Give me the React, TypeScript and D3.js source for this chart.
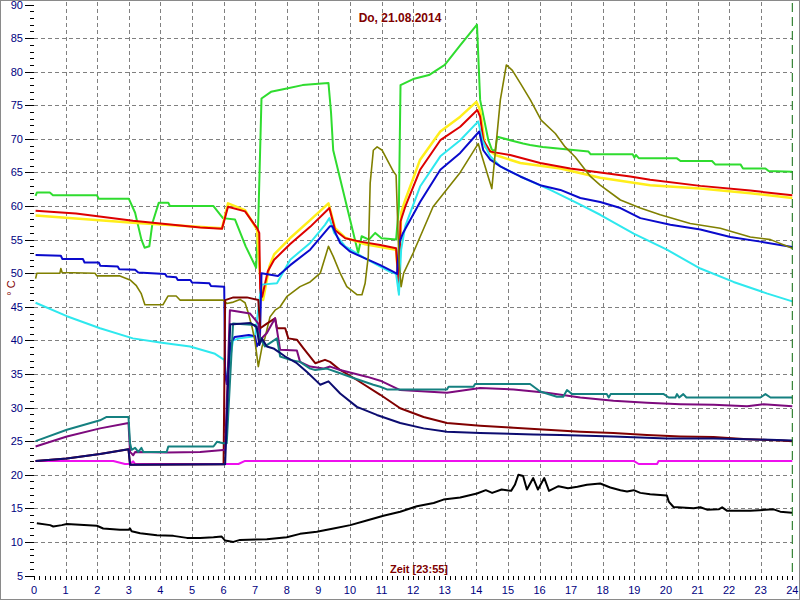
import { useMemo } from "react";
import * as d3 from "d3";

type Pt = [number, number];

// Stunde, °C
const gruen: Pt[] = [[0.05,61.5],[0.09,62],[0.5,62],[0.6,61.6],[1.99,61.6],[2.05,61.1],[3.0,61.1],[3.2,59],[3.4,55],[3.5,53.8],[3.65,54],[3.75,57.5],[3.95,60.5],[4.25,60.5],[4.3,60],[5.68,60],[5.98,58.2],[6.36,58],[6.7,54],[7.03,50.8],[7.1,58],[7.2,76],[7.5,77],[8.0,77.5],[8.5,78],[9.0,78.2],[9.32,78.3],[9.4,74],[9.47,68.3],[10.26,53],[10.37,55.5],[10.6,55],[10.8,56],[11.0,55.2],[11.46,55],[11.55,60],[11.6,78],[12.0,78.9],[12.5,79.5],[13.0,81],[13.5,84],[14.02,87],[14.12,75.8],[14.38,69.8],[14.5,68.3],[14.6,68.3],[14.66,70.3],[15.07,69.8],[15.48,69.3],[15.7,69.1],[16.1,68.8],[17.55,68.1],[17.62,67.7],[18.95,67.7],[19.0,67.2],[19.05,67.6],[19.15,67.1],[20.35,67.1],[20.46,66.7],[21.46,66.7],[21.56,66.2],[22.36,66.2],[22.44,65.6],[23.15,65.6],[23.25,65.2],[24,65.1]];
const gelb: Pt[] = [[0.05,58.6],[3.13,57.5],[5.95,56.7],[6.14,60.4],[6.68,59.4],[7.06,56.5],[7.15,50],[7.25,46],[7.45,51],[7.6,52.8],[8.1,55.2],[8.74,57.9],[9.32,60.4],[9.53,56.7],[9.85,55.3],[10.48,54.3],[11.46,53.5],[11.55,48],[11.62,59],[11.75,60.9],[12.22,66.9],[12.86,71.1],[13.49,73.3],[14.0,75.5],[14.12,74.3],[14.28,68.8],[14.6,67.6],[15.39,66.4],[16.66,65.6],[17.92,64.2],[19.5,63.1],[21.09,62.6],[22.67,61.9],[24,61.2]];
const rot: Pt[] = [[0.05,59.3],[1.33,58.9],[3.13,57.8],[5.26,56.8],[5.95,56.6],[6.14,59.9],[6.68,59.2],[7.06,56.7],[7.13,56],[7.16,47],[7.22,46.5],[7.4,50.3],[7.6,52],[8.1,54.3],[8.74,56.9],[9.35,59.7],[9.53,56.4],[9.85,55.2],[10.32,54.7],[10.96,54.2],[11.46,53.7],[11.55,47.3],[11.6,57.7],[11.75,59.9],[12.22,65.4],[12.86,69.8],[13.49,71.8],[14.03,74.3],[14.12,73.3],[14.22,69.8],[14.44,68.1],[15.07,67.6],[16.02,66.4],[16.97,65.6],[17.92,65.0],[18.87,64.4],[19.5,63.9],[21.09,63.0],[22.67,62.3],[24,61.6]];
const cyan: Pt[] = [[0.05,45.6],[1.04,43.6],[2.09,41.8],[3.13,40.3],[3.99,39.7],[4.94,39.1],[5.73,38.0],[6.02,37.1],[6.1,34],[6.2,37],[6.3,40],[6.5,40.3],[7.0,40.6],[7.08,44],[7.2,48.3],[7.69,48.5],[8.11,52],[8.74,54.5],[9.21,57.2],[9.35,58.2],[9.5,56],[9.85,54],[10.48,52.2],[11.27,50.2],[11.46,49.9],[11.55,46.8],[11.62,53.5],[11.75,57],[12.22,62.9],[12.86,67.4],[13.49,69.8],[14.06,72.6],[14.19,69.8],[14.44,67.4],[14.76,65.9],[15.39,64.4],[16.34,62.4],[17.29,60.2],[17.92,58.7],[18.98,55.9],[20.03,53.5],[21.09,50.7],[22.14,48.7],[23.19,47.0],[24,45.8]];
const blau: Pt[] = [[0.05,52.7],[0.85,52.6],[0.9,52.1],[1.55,52.1],[1.6,51.6],[2.05,51.6],[2.1,51.1],[2.65,51.0],[2.7,50.6],[3.2,50.5],[3.3,50.1],[4.15,49.9],[4.2,49.5],[4.5,49.4],[4.55,49.0],[4.95,49.0],[5.0,48.6],[5.55,48.5],[5.6,48.1],[6.02,48.0],[6.05,35],[6.1,33.5],[6.22,39.5],[6.35,40.5],[6.8,40.8],[7.0,40.6],[7.05,39.1],[7.15,40],[7.2,50],[7.72,49.6],[8.11,51.2],[8.74,53.5],[9.37,57],[9.44,57],[9.69,54.5],[10.01,53.2],[10.48,52.2],[10.96,51.2],[11.38,50.2],[11.49,49.9],[11.56,54.5],[11.68,56],[12.22,60.6],[12.86,65.4],[13.49,67.9],[14.09,71.1],[14.22,68.3],[14.44,66.9],[14.76,65.9],[15.39,64.4],[16.02,63.1],[16.66,62.4],[17.29,61.2],[17.92,60.6],[18.56,59.7],[19.19,58.2],[20.14,57.2],[21.09,56.5],[22.04,55.4],[22.99,54.7],[24,53.9]];
const oliv: Pt[] = [[0.05,49.2],[0.09,50],[0.82,50],[0.85,50.7],[0.89,50.1],[1.93,50.0],[1.99,49.6],[2.72,49.6],[3.04,49.0],[3.23,48.2],[3.39,47],[3.51,45.3],[4.08,45.3],[4.24,46.6],[4.5,46.6],[4.62,46],[5.99,46],[6.1,45.5],[6.31,45.7],[6.52,46.1],[6.68,45.6],[6.78,44.1],[6.9,42],[6.99,40],[7.1,36.1],[7.22,39.1],[7.31,40.4],[7.47,43.5],[7.63,44.5],[7.79,45],[8.0,46.5],[8.42,48],[8.74,48.7],[9.06,50],[9.32,54],[9.47,52.5],[9.69,50],[9.9,48],[10.22,46.8],[10.38,46.8],[10.48,48.5],[10.58,52.5],[10.64,63.4],[10.74,68.3],[10.86,68.8],[11.02,68.3],[11.38,65.1],[11.46,64.6],[11.55,52],[11.62,48],[11.7,50],[12.0,53],[12.63,59.9],[13.49,65],[14.06,69.3],[14.12,68.3],[14.49,62.6],[14.76,75.8],[14.95,81],[15.14,80.2],[15.39,78.3],[15.71,75.8],[16.05,72.8],[16.5,70.8],[16.81,68.8],[17.13,67.3],[17.61,64.4],[17.92,63.1],[18.56,60.9],[19.19,59.7],[19.82,58.7],[20.77,57.4],[21.72,56.7],[22.67,55.4],[23.31,55],[24,53.7]];
const magenta: Pt[] = [[0.05,22.05],[2.51,22.05],[2.88,21.6],[3.04,21.6],[3.14,22.0],[3.2,21.6],[6.0,21.6],[6.47,21.6],[6.68,22.05],[18.98,22.05],[19.14,21.6],[19.72,21.6],[19.77,22.05],[24,22.05]];
const braun: Pt[] = [[0.05,22.05],[1.04,22.4],[2.09,23.1],[2.99,23.8],[3.04,21.5],[6.0,21.55],[6.05,46],[6.31,46.4],[6.74,46.4],[7.1,46],[7.16,41.8],[7.37,42.5],[7.63,43.3],[7.69,41.8],[7.95,41.8],[8.05,40.3],[8.32,40.1],[8.53,38.8],[8.9,36.6],[9.21,37.1],[9.37,36.8],[9.69,35.6],[10.22,34.1],[10.96,31.9],[11.59,29.9],[12.33,28.6],[13.07,27.7],[14.12,27.3],[15.18,27.0],[16.23,26.7],[17.29,26.4],[18.34,26.2],[19.4,25.9],[20.46,25.7],[21.51,25.6],[22.57,25.3],[23.62,25.1],[24,25.0]];
const lila: Pt[] = [[0.05,24.2],[1.04,25.7],[2.09,26.9],[2.99,27.7],[3.04,23.4],[3.14,22.9],[3.2,23.4],[4.2,23.3],[5.26,23.4],[5.99,23.7],[6.05,23.7],[6.2,44.5],[6.84,44.0],[7.1,42.5],[7.16,40.1],[7.37,41.1],[7.63,43.3],[7.79,38.6],[8.32,38.5],[8.42,36.8],[8.74,36.1],[9.16,35.8],[9.37,36.1],[9.69,35.6],[10.53,34.6],[10.96,34.0],[11.59,32.6],[13.07,32.2],[14.12,32.9],[15.18,32.7],[16.23,32.2],[17.29,31.5],[18.34,31.0],[19.4,30.7],[20.46,30.5],[21.51,30.4],[22.57,30.2],[23.09,30.5],[24,30.2]];
const petrol: Pt[] = [[0.05,25.0],[1.04,26.7],[2.09,28.1],[2.3,28.6],[2.99,28.6],[3.04,24.7],[3.09,23.7],[3.2,24.0],[3.3,23.4],[3.4,24.0],[3.46,23.4],[4.2,23.4],[4.25,24.2],[5.68,24.2],[5.79,24.9],[5.99,24.7],[6.1,24.7],[6.3,42.5],[6.99,42.3],[7.16,40.3],[7.31,39.1],[7.69,40.3],[7.79,37.6],[8.11,37.1],[8.42,36.8],[8.74,35.8],[8.9,35.6],[9.27,35.8],[9.69,35.1],[10.11,34.4],[10.74,33.4],[10.96,33.1],[11.17,32.7],[13.07,32.7],[13.12,33.1],[13.91,33.1],[13.96,33.5],[15.7,33.5],[16.02,32.4],[16.55,31.6],[16.75,31.6],[16.87,32.6],[17.03,32.0],[18.13,32.0],[18.19,31.5],[18.25,32.0],[19.93,32.0],[20.09,31.5],[20.3,31.5],[20.35,32.0],[20.42,31.5],[20.55,32.0],[20.65,31.5],[22.99,31.5],[23.15,32.0],[23.31,31.5],[24,31.5]];
const marine: Pt[] = [[0.05,22.05],[1.04,22.4],[2.09,23.1],[2.99,23.8],[3.04,21.5],[6.0,21.55],[6.05,21.55],[6.21,42.4],[6.31,42.4],[6.84,42.6],[7.05,42.0],[7.13,39.3],[7.21,40.3],[7.37,39.1],[7.58,38.8],[7.74,38.3],[7.95,37.6],[8.32,36.6],[8.64,35.3],[8.95,33.9],[9.06,33.4],[9.32,33.9],[9.69,32.1],[10.22,30.1],[10.85,28.9],[11.59,27.7],[12.33,26.9],[13.07,26.4],[14.12,26.2],[15.81,26.0],[16.66,25.9],[18.34,25.7],[20.03,25.4],[21.51,25.4],[22.57,25.3],[24,25.1]];
const aussen: Pt[] = [[0.09,12.77],[0.51,12.5],[0.61,12.3],[0.88,12.5],[1.04,12.66],[1.99,12.4],[2.19,12.0],[2.72,11.8],[2.99,11.8],[3.04,12.0],[3.09,11.6],[3.36,11.3],[3.89,11.0],[4.41,10.9],[4.84,10.6],[5.26,10.6],[5.68,10.7],[5.94,10.8],[6.05,10.2],[6.31,10.0],[6.52,10.3],[7.37,10.4],[8.0,10.7],[8.42,11.2],[8.95,11.5],[9.48,12.0],[10.01,12.5],[10.53,13.2],[11.06,13.9],[11.59,14.5],[12.12,15.3],[12.65,15.8],[12.96,16.3],[13.49,16.6],[14.02,17.2],[14.3,17.7],[14.5,17.3],[14.8,17.8],[15.1,17.6],[15.22,18.5],[15.33,20.0],[15.48,19.8],[15.6,17.8],[15.8,19.5],[15.95,17.8],[16.15,19.5],[16.3,17.6],[16.6,18.3],[16.9,18.0],[17.2,18.2],[17.5,18.5],[17.92,18.7],[18.24,18.1],[18.56,17.7],[18.77,17.5],[18.98,17.7],[19.19,17.3],[19.5,17.1],[20.03,16.9],[20.09,16.0],[20.24,15.2],[20.88,15.0],[21.09,15.15],[21.3,14.8],[21.67,14.85],[21.78,15.15],[21.93,14.65],[22.67,14.65],[23.41,14.85],[23.62,14.5],[23.99,14.35]];

const TITLE = "Do, 21.08.2014";
const X_LABEL = "Zeit [23:55]";
const Y_LABEL = "° C";
const CURSOR_HOUR = 24;

// Zeichenreihenfolge: spätere liegen oben
const SERIES = [
    { data: gruen, color: "#2fdc2f", width: 2 },
    { data: gelb, color: "#ffee1a", width: 2.5 },
    { data: rot, color: "#dd0000", width: 2 },
    { data: cyan, color: "#2ee8ee", width: 2 },
    { data: blau, color: "#0a0acc", width: 2 },
    { data: oliv, color: "#808000", width: 1.6 },
    { data: magenta, color: "#ee10ee", width: 2 },
    { data: braun, color: "#800000", width: 2 },
    { data: lila, color: "#7d0a7d", width: 2 },
    { data: petrol, color: "#158080", width: 2 },
    { data: marine, color: "#0c0c70", width: 2 },
    { data: aussen, color: "#000000", width: 2 },
];

const FONT = "'Liberation Sans', Arial, sans-serif";

export default function App() {
    const W = 800, H = 600;
    const x = useMemo(() => d3.scaleLinear().domain([0, 24]).range([34, 792.3]), []);
    const y = useMemo(() => d3.scaleLinear().domain([5, 90]).range([575.5, 4.5]), []);
    const line = d3.line<Pt>().x(d => x(d[0])).y(d => y(d[1])).curve(d3.curveLinear);

    const yMinor = d3.range(5, 91, 1);
    const yMajor = d3.range(5, 91, 5);
    const xMinor = d3.range(0, 24 * 6 + 1).map(i => i / 6);
    const hours = d3.range(0, 25);

    return (
        <div style={{ position: "absolute", left: 0, top: 0 }}>
            <svg width={W} height={H} style={{ display: "block", background: "#fff" }} fontFamily={FONT}>
                <rect x={0.5} y={0.5} width={W - 1} height={H - 1} fill="#fff" stroke="#8a8a8a" />

                {/* Gitter */}
                <g stroke="#808080" strokeWidth={1} strokeDasharray="4,3" shapeRendering="crispEdges">
                    {yMajor.filter(v => v > 5 && v < 90).map(v => (
                        <line key={"gy" + v} x1={x(0)} x2={x(24)} y1={Math.round(y(v)) + 0.5} y2={Math.round(y(v)) + 0.5} />
                    ))}
                    {hours.filter(h => h > 0 && h < 24).map(h => (
                        <line key={"gx" + h} x1={Math.round(x(h)) + 0.5} x2={Math.round(x(h)) + 0.5} y1={2} y2={y(5)} />
                    ))}
                </g>

                {/* Y-Achse */}
                <g stroke="#000" strokeWidth={1} shapeRendering="crispEdges">
                    {yMinor.map(v => (
                        <line key={"ty" + v} x1={v % 5 === 0 ? 25 : 30} x2={34} y1={Math.round(y(v)) + 0.5} y2={Math.round(y(v)) + 0.5} />
                    ))}
                </g>
                <g fill="#000080" fontSize={11} textAnchor="end">
                    {yMajor.map(v => (
                        <text key={"ly" + v} x={23} y={y(v) + 4}>{v}</text>
                    ))}
                </g>

                {/* X-Achse */}
                <g stroke="#000" strokeWidth={1} shapeRendering="crispEdges">
                    {xMinor.map((h, i) => (
                        <line key={"tx" + i} x1={Math.round(x(h)) + 0.5} x2={Math.round(x(h)) + 0.5} y1={576} y2={580} />
                    ))}
                </g>
                <g fill="#000080" fontSize={11} textAnchor="middle">
                    {hours.map(h => (
                        <text key={"lx" + h} x={x(h)} y={594}>{h}</text>
                    ))}
                </g>

                {/* Kurven */}
                <g fill="none" strokeLinejoin="round">
                    {SERIES.map((s, i) => (
                        <path key={"s" + i} d={line(s.data) || ""} stroke={s.color} strokeWidth={s.width} />
                    ))}
                </g>

                {/* Cursor */}
                <line x1={x(CURSOR_HOUR)} x2={x(CURSOR_HOUR)} y1={3} y2={y(5)} stroke="#0a6a0a" strokeWidth={1} strokeDasharray="9,5" />

                {/* Beschriftung */}
                <text x={400} y={22} textAnchor="middle" fill="#800000" fontWeight="bold" fontSize={12}>{TITLE}</text>
                <text x={419} y={573} textAnchor="middle" fill="#800000" fontWeight="bold" fontSize={11}>{X_LABEL}</text>
                <text transform="translate(15,288) rotate(-90)" textAnchor="middle" fill="#800000" fontSize={11}>{Y_LABEL}</text>
            </svg>
        </div>
    );
}
